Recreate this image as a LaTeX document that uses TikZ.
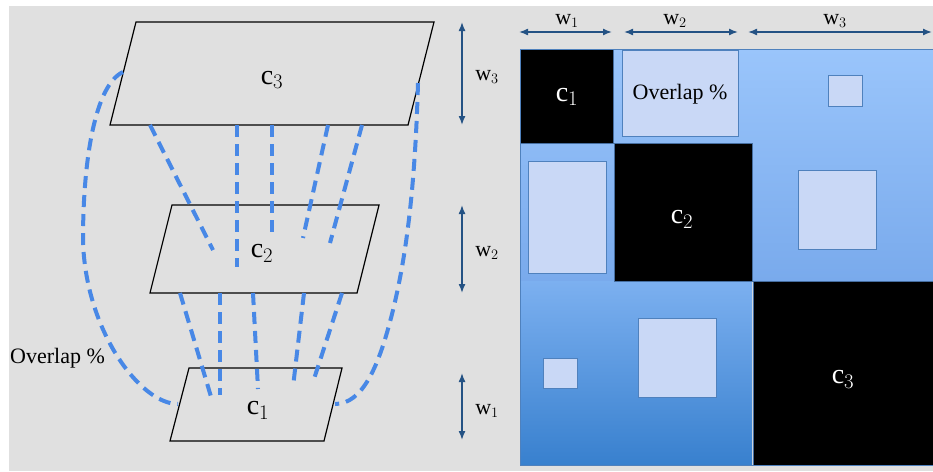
\documentclass[tikz,border=0pt]{standalone}
\usepackage{fontspec}
\setmainfont{Liberation Serif}
\usetikzlibrary{arrows.meta}

\begin{document}
\begin{tikzpicture}[x=1pt,y=-1pt,
  planebox/.style={draw=black,line width=1.2pt},
  overlapline/.style={draw={rgb,255:red,72;green,136;blue,230},line width=4pt,dash pattern=on 12pt off 7pt},
  spanarrow/.style={draw={rgb,255:red,36;green,82;blue,132},line width=1.5pt,{Latex[length=9pt,width=7pt]}-{Latex[length=9pt,width=7pt]}},
  cellbox/.style={fill={rgb,255:red,201;green,216;blue,246},draw={rgb,255:red,79;green,129;blue,189},line width=1pt},
  blockbox/.style={fill=black,draw={rgb,255:red,70;green,110;blue,160},line width=0.8pt},
  biglabel/.style={font=\fontsize{28}{32}\selectfont,inner sep=0pt},
  smalllabel/.style={font=\fontsize{22}{26}\selectfont,inner sep=0pt}]
\useasboundingbox (0,0) rectangle (933,471);
\fill[white] (0,0) rectangle (933,471);
\fill[fill={rgb,255:red,224;green,224;blue,224}] (9,6) rectangle (933,471);

% three planes
\draw[planebox] (136,22) -- (434,22) -- (408,125) -- (110,125) -- cycle;
\draw[planebox] (172,205) -- (379,205) -- (357,293) -- (150,293) -- cycle;
\draw[planebox] (189,368) -- (342,368) -- (324,441) -- (170,441) -- cycle;
\node[biglabel] (c3) at (272,80) {c$_3$};
\node[biglabel] (c2) at (262,253) {c$_2$};
\node[biglabel] (c1) at (258,410) {c$_1$};
\node[smalllabel,anchor=west] (ovl) at (10,358) {Overlap \%};

% overlap links
\coordinate (u1) at (150,125); \coordinate (v1) at (213,250);
\coordinate (u2) at (237,125); \coordinate (v2) at (237,267);
\coordinate (u3) at (272,125); \coordinate (v3) at (272,237);
\coordinate (u4) at (328,125); \coordinate (v4) at (303,238);
\coordinate (u5) at (362,125); \coordinate (v5) at (330,243);
\draw[overlapline] (u1)--(v1); \draw[overlapline] (u2)--(v2); \draw[overlapline] (u3)--(v3);
\draw[overlapline] (u4)--(v4); \draw[overlapline] (u5)--(v5);
\coordinate (s1) at (180,293); \coordinate (t1) at (212,400);
\coordinate (s2) at (220,293); \coordinate (t2) at (220,395);
\coordinate (s3) at (253,293); \coordinate (t3) at (258,389);
\coordinate (s4) at (304,293); \coordinate (t4) at (293,387);
\coordinate (s5) at (342,293); \coordinate (t5) at (313,382);
\draw[overlapline] (s1)--(t1); \draw[overlapline] (s2)--(t2); \draw[overlapline] (s3)--(t3);
\draw[overlapline] (s4)--(t4); \draw[overlapline] (s5)--(t5);
\coordinate (l3) at (123,72); \coordinate (l1) at (178,404);
\draw[overlapline] (l3) .. controls (95,85) and (83,160) .. (83,240) .. controls (85,330) and (140,404) .. (l1);
\coordinate (r3) at (418,83); \coordinate (r1) at (335,404);
\draw[overlapline] (r3) .. controls (415,190) and (406,260) .. (391,318) .. controls (378,368) and (362,404) .. (r1);

% widths beside the planes
\coordinate (h3a) at (462,22); \coordinate (h3b) at (462,125);
\coordinate (h2a) at (462,205); \coordinate (h2b) at (462,293);
\coordinate (h1a) at (462,373); \coordinate (h1b) at (462,440);
\draw[spanarrow] (h3a)--(h3b); \draw[spanarrow] (h2a)--(h2b); \draw[spanarrow] (h1a)--(h1b);
\node[smalllabel] (lw3) at (487,77) {w$_3$};
\node[smalllabel] (lw2) at (487,253) {w$_2$};
\node[smalllabel] (lw1) at (487,411) {w$_1$};

% matrix
\shade[top color={rgb,255:red,154;green,197;blue,251},bottom color={rgb,255:red,121;green,170;blue,236}] (520,49) rectangle (933,281);
\shade[top color={rgb,255:red,124;green,176;blue,240},bottom color={rgb,255:red,56;green,128;blue,206}] (520,281) rectangle (752,465);
\draw[cellbox] (622,50) rectangle (738,136);
\draw[cellbox] (828,75) rectangle (862,106);
\draw[cellbox] (528,161) rectangle (606,273);
\draw[cellbox] (798,170) rectangle (876,249);
\draw[cellbox] (543,358) rectangle (577,388);
\draw[cellbox] (638,318) rectangle (716,397);
\node[smalllabel] (ovm) at (680,94) {Overlap \%};
\draw[blockbox] (520,49) rectangle (613,143);
\draw[blockbox] (614,143) rectangle (752,281);
\draw[blockbox] (753,281) rectangle (933,465);
\node[biglabel,text=white] (m1) at (567,97) {c$_1$};
\node[biglabel,text=white] (m2) at (682,219) {c$_2$};
\node[biglabel,text=white] (m3) at (843,379) {c$_3$};
\draw[draw={rgb,255:red,79;green,129;blue,189},line width=1pt] (520,49) rectangle (933,465);

% widths above the matrix
\coordinate (k1a) at (519,32); \coordinate (k1b) at (612,32);
\coordinate (k2a) at (624,32); \coordinate (k2b) at (738,32);
\coordinate (k3a) at (748,32); \coordinate (k3b) at (932,32);
\draw[spanarrow] (k1a)--(k1b); \draw[spanarrow] (k2a)--(k2b); \draw[spanarrow] (k3a)--(k3b);
\node[smalllabel] (tw1) at (567,21) {w$_1$};
\node[smalllabel] (tw2) at (675,21) {w$_2$};
\node[smalllabel] (tw3) at (835,21) {w$_3$};

\end{tikzpicture}
\end{document}
